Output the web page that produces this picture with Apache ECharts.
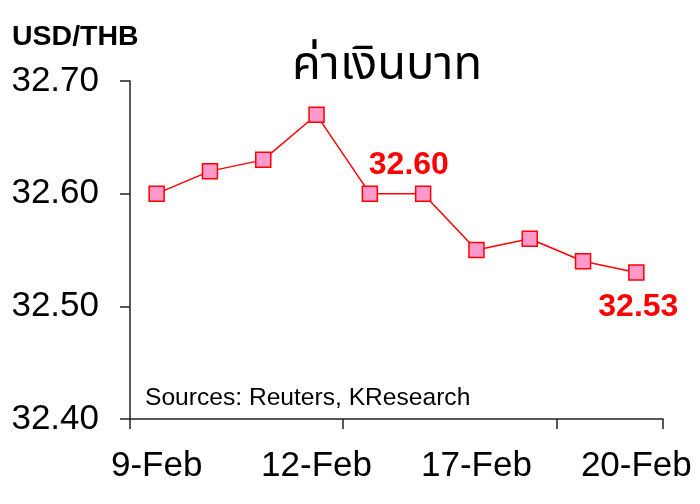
<!DOCTYPE html>
<html>
<head>
<meta charset="utf-8">
<script src="https://cdn.jsdelivr.net/npm/echarts@6/dist/echarts.min.js"></script>
<style>
  html, body { margin: 0; padding: 0; background: #fff; }
  #chart { width: 700px; height: 504px; }
</style>
</head>
<body>
<div id="chart"></div>
<script>
var categories = ['9-Feb', '10-Feb', '11-Feb', '12-Feb', '13-Feb', '16-Feb', '17-Feb', '18-Feb', '19-Feb', '20-Feb'];
var rates = [32.60, 32.62, 32.63, 32.67, 32.60, 32.60, 32.55, 32.56, 32.54, 32.53];
var yTicks = [32.40, 32.50, 32.60, 32.70];
var labelled = [4, 9];

(function() {
    var font = '"Liberation Sans", Arial, sans-serif';
    var ink = '#000';
    var red = '#ff0000';

    var chart = echarts.init(document.getElementById('chart'), null, { renderer: 'canvas' });

    var data = rates.map(function(v, i) {
        var item = { value: v };
        if (i === labelled[0]) {
            item.label = { show: true, position: 'top', offset: [39, 1] };
        } else if (i === labelled[1]) {
            item.label = { show: true, position: 'bottom', offset: [2, 5] };
        }
        return item;
    });

    chart.setOption({
        animation: false,
        backgroundColor: '#fff',
        grid: { left: 130, right: 37, top: 81, bottom: 85, containLabel: false },
        graphic: [
            { type: 'text', left: 12, top: 23,
              style: { text: 'USD/THB', font: 'bold 28.5px ' + font, fill: ink } },
            { type: 'text', left: 292, top: 46,
              style: { text: 'ค่าเงินบาท', font: '47px Tahoma, "Noto Sans Thai", "Noto Sans", sans-serif', fill: ink } },
            { type: 'text', left: 145, top: 386,
              style: { text: 'Sources: Reuters, KResearch', font: '24.6px ' + font, fill: ink } }
        ],
        xAxis: {
            type: 'category',
            data: categories,
            boundaryGap: true,
            axisLine: { lineStyle: { color: '#222', width: 1.5 } },
            axisTick: { show: true, interval: 3, length: 10, lineStyle: { color: '#222', width: 1.5 } },
            axisLabel: { interval: 2, margin: 30, color: ink, fontSize: 35, fontFamily: font }
        },
        yAxis: {
            type: 'value',
            min: yTicks[0], max: yTicks[yTicks.length - 1], interval: 0.1,
            axisLine: { show: true, lineStyle: { color: '#222', width: 1.5 } },
            axisTick: { show: true, length: 10, lineStyle: { color: '#222', width: 1.5 } },
            splitLine: { show: false },
            axisLabel: { margin: 31, color: ink, fontSize: 35, fontFamily: font,
                formatter: function(v) { return v.toFixed(2); } }
        },
        series: [{
            type: 'line',
            data: data,
            symbol: 'rect',
            symbolSize: 15,
            lineStyle: { color: red, width: 1.5 },
            itemStyle: { color: '#ff99cc', borderColor: red, borderWidth: 1.5 },
            label: { show: false, color: red, fontSize: 32, fontWeight: 'bold', fontFamily: font,
                formatter: function(p) { return p.value.toFixed(2); } }
        }]
    });
})();
</script>
</body>
</html>
